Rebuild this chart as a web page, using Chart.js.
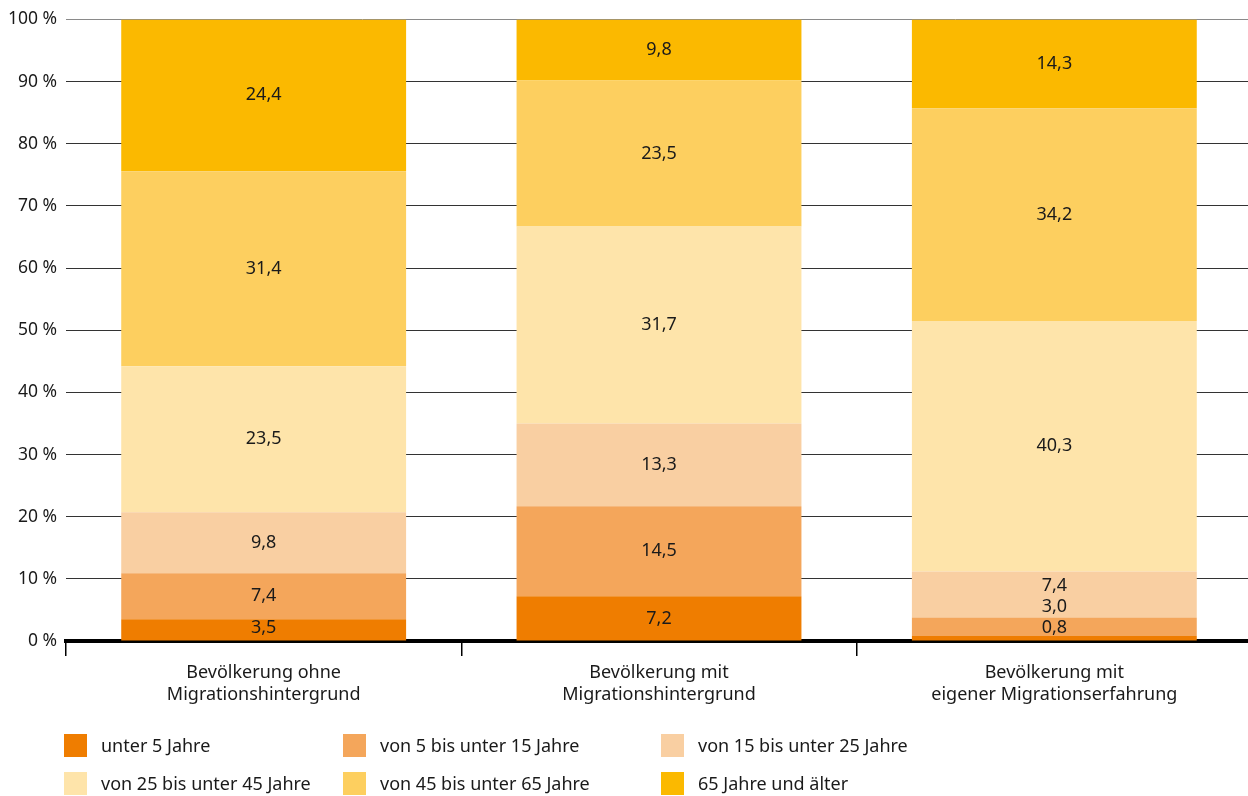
<!DOCTYPE html>
<html>
<head>
<meta charset="utf-8">
<script src="https://cdn.jsdelivr.net/npm/chart.js@4/dist/chart.umd.min.js"></script>
<style>
	html, body { margin: 0; padding: 0; background: #fff; overflow: hidden; }
	#wrap { width: 1252px; height: 796px; position: relative; }
</style>
</head>
<body>
<div id="wrap"><canvas id="chart"></canvas></div>
<script>
const categories = [
	['Bevölkerung ohne', 'Migrationshintergrund'],
	['Bevölkerung mit', 'Migrationshintergrund'],
	['Bevölkerung mit', 'eigener Migrationserfahrung']
];

const seriesNames = [
	'unter 5 Jahre',
	'von 5 bis unter 15 Jahre',
	'von 15 bis unter 25 Jahre',
	'von 25 bis unter 45 Jahre',
	'von 45 bis unter 65 Jahre',
	'65 Jahre und älter'
];

const under5     = [3.5, 7.2, 0.8];
const from5to15  = [7.4, 14.5, 3.0];
const from15to25 = [9.8, 13.3, 7.4];
const from25to45 = [23.5, 31.7, 40.3];
const from45to65 = [31.4, 23.5, 34.2];
const over65     = [24.4, 9.8, 14.3];

const yTicks = [0, 10, 20, 30, 40, 50, 60, 70, 80, 90, 100];

const seriesColors = ['#EF7D00', '#F4A65B', '#F9CFA2', '#FEE4AA', '#FDCF5F', '#FBB900'];

const FONT = '"Noto Sans", sans-serif';
const FONT_SIZE = 18;
const TEXT = '#1a1a1a';

const seriesData = [under5, from5to15, from15to25, from25to45, from45to65, over65];

// labels inside the segments, pushed upward where segments are too thin
const segmentLabels = {
	id: 'segmentLabels',
	afterDatasetsDraw(chart) {
		const ctx = chart.ctx;
		ctx.save();
		ctx.font = FONT_SIZE + 'px ' + FONT;
		ctx.fillStyle = TEXT;
		ctx.textAlign = 'center';
		ctx.textBaseline = 'middle';
		const bottom = chart.scales.y.getPixelForValue(0);
		for(let i = 0; i < categories.length; ++i) {
			let lastY = bottom + 8;
			chart.data.datasets.forEach((ds, d) => {
				const el = chart.getDatasetMeta(d).data[i];
				const center = (el.y + el.base) / 2;
				const y = Math.min(center, lastY - 21);
				lastY = y;
				ctx.fillText(ds.data[i].toFixed(1).replace('.', ','), el.x, y);
			});
		}
		ctx.restore();
	}
};

// legend in fixed columns, like the original layout
const gridLegend = {
	id: 'gridLegend',
	afterDraw(chart) {
		const ctx = chart.ctx;
		const colX = [64, 343, 661];
		const rowY = [734, 772];
		ctx.save();
		ctx.font = FONT_SIZE + 'px ' + FONT;
		ctx.textAlign = 'left';
		ctx.textBaseline = 'middle';
		chart.data.datasets.forEach((ds, d) => {
			const x = colX[d % 3];
			const y = rowY[Math.floor(d / 3)];
			ctx.fillStyle = ds.backgroundColor;
			ctx.fillRect(x, y, 23, 23);
			ctx.fillStyle = TEXT;
			ctx.fillText(ds.label, x + 37, y + 13);
		});
		ctx.restore();
	}
};

const chart = new Chart('chart', {
	type: 'bar',
	data: {
		labels: categories,
		datasets: seriesNames.map((name, i) => ({
			label: name,
			data: seriesData[i],
			backgroundColor: seriesColors[i],
			borderWidth: 0,
			barPercentage: 0.7206,
			categoryPercentage: 1.0
		}))
	},
	options: {
		responsive: true,
		maintainAspectRatio: false,
		animation: false,
		layout: {
			padding: { top: 19, right: 0, bottom: 0, left: 0 }
		},
		scales: {
			x: {
				stacked: true,
				z: 1,
				border: { display: true, color: '#000', width: 4 },
				grid: {
					offset: true,
					drawOnChartArea: false,
					drawTicks: true,
					tickLength: 15,
					color: '#000',
					lineWidth: 1.5
				},
				ticks: {
					padding: 6,
					color: TEXT,
					font: { family: FONT, size: FONT_SIZE, lineHeight: 1.2 },
					maxRotation: 0
				},
				afterFit(scale) { scale.height = 155; }
			},
			y: {
				stacked: true,
				min: 0,
				max: 100,
				afterBuildTicks(scale) { scale.ticks = yTicks.map(v => ({ value: v })); },
				border: { display: false },
				grid: {
					drawTicks: false,
					color: ctx => ctx.tick.value === 0 ? 'rgba(0,0,0,0)' : (ctx.tick.value === 100 ? '#8a8a8a' : '#333'),
					lineWidth: 1
				},
				ticks: {
					padding: 9,
					color: TEXT,
					font: { family: FONT, size: 17.5 },
					callback: v => v + ' %'
				},
				afterFit(scale) { scale.width = 66; }
			}
		},
		plugins: {
			legend: { display: false },
			tooltip: { enabled: false }
		}
	},
	plugins: [segmentLabels, gridLegend]
});
</script>
</body>
</html>
